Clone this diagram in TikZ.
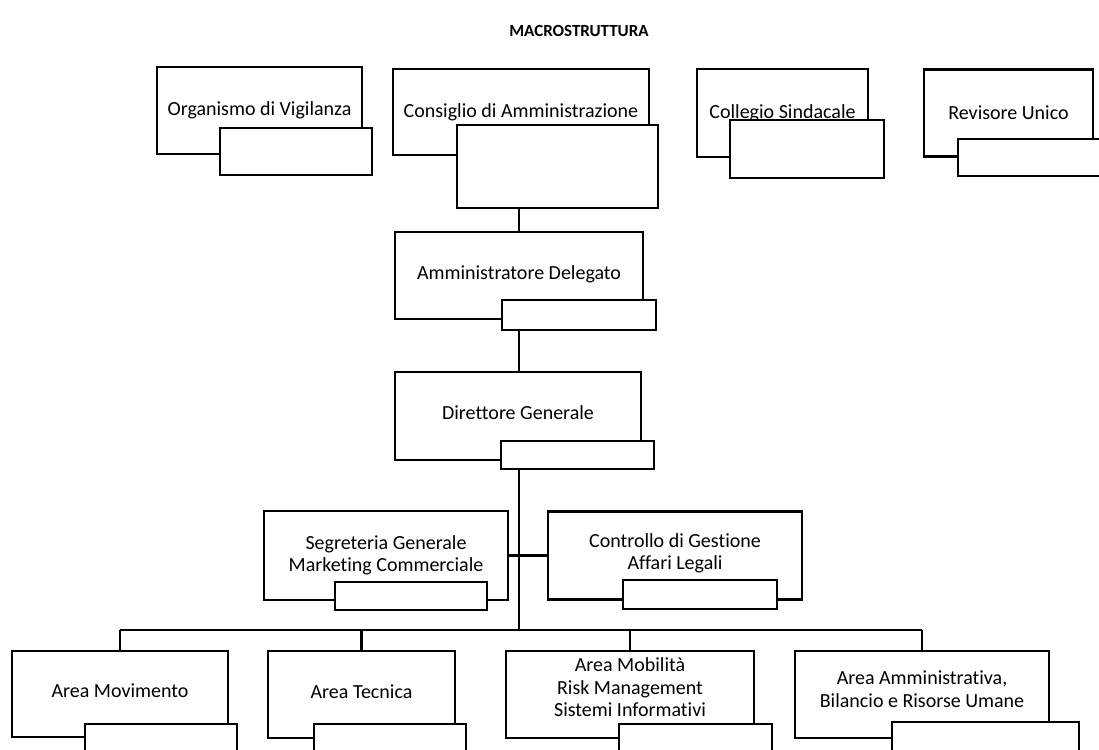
\documentclass[tikz,border=0pt]{standalone}
\usepackage{fontspec}
\setmainfont{Carlito}[Ligatures={NoCommon}]
\newcommand\updepth[1]{\rule[-#1]{0pt}{#1}}
\begin{document}
\begin{tikzpicture}[x=1pt,y=-1pt,
  box/.style={draw=black, line width=2.1pt, fill=white, inner sep=0pt, align=center,
    font=\fontsize{20}{22.5}\selectfont},
  subbox/.style={draw=black, line width=2.1pt, fill=white, inner sep=0pt},
  conn/.style={draw=black, line width=2.1pt},
  ttl/.style={font=\fontsize{17}{20}\selectfont\bfseries}]
\useasboundingbox (0,0) rectangle (1099,749);
\fill[white] (0,0) rectangle (1099,749);

\node[ttl] (title) at (579,31) {MACROSTRUTTURA};

% top row
\node[box, minimum width=205pt, minimum height=87pt] (ov) at (259.5,110.5) {Organismo di Vigilanza};
\node[subbox, minimum width=152pt, minimum height=47pt] (ovs) at (296,151.5) {};
\node[box, minimum width=256pt, minimum height=86pt] (cda) at (521,112) {Consiglio di Amministrazione};
\node[subbox, minimum width=201pt, minimum height=83pt] (cdas) at (557.5,166.5) {};
\node[box, minimum width=171pt, minimum height=88pt] (cs) at (782.5,113) {Collegio Sindacale};
\node[subbox, minimum width=154pt, minimum height=58pt] (css) at (807,149) {};
\node[box, minimum width=169pt, minimum height=87pt] (ru) at (1008.5,113) {Revisore Unico};
\node[subbox, minimum width=148pt, minimum height=37pt] (rus) at (1032,157.5) {};

% chain
\node[box, minimum width=248pt, minimum height=87pt] (ad) at (519,275.5) {Amministratore Delegato\updepth{6pt}};
\node[subbox, minimum width=154pt, minimum height=30pt] (ads) at (579,315) {};
\node[box, minimum width=246pt, minimum height=88pt] (dg) at (518,416) {Direttore Generale\updepth{6pt}};
\node[subbox, minimum width=153pt, minimum height=28pt] (dgs) at (577.5,455) {};

% staff
\node[box, minimum width=244pt, minimum height=89pt] (sg) at (386,555.5) {Segreteria Generale\\Marketing Commerciale};
\node[subbox, minimum width=152pt, minimum height=28pt] (sgs) at (411,596) {};
\node[box, minimum width=254pt, minimum height=88pt] (cg) at (675,555.5) {Controllo di Gestione\\Affari Legali\updepth{8pt}};
\node[subbox, minimum width=154pt, minimum height=29pt] (cgs) at (700,594.5) {};

% bottom row
\node[box, minimum width=216pt, minimum height=86pt] (am) at (120,694) {Area Movimento\updepth{6pt}};
\node[subbox, minimum width=152pt, minimum height=46pt] (ams) at (161,747) {};
\node[box, minimum width=187pt, minimum height=87pt] (at) at (361.5,694.5) {Area Tecnica\updepth{6pt}};
\node[subbox, minimum width=152pt, minimum height=46pt] (ats) at (390,747) {};
\node[box, minimum width=248pt, minimum height=87pt] (amob) at (630,694.5) {Area Mobilità\\Risk Management\\Sistemi Informativi\updepth{14pt}};
\node[subbox, minimum width=153pt, minimum height=46pt] (amobs) at (695.5,747) {};
\node[box, minimum width=254pt, minimum height=87pt] (aa) at (922,694.5) {Area Amministrativa,\\Bilancio e Risorse Umane\updepth{11pt}};
\node[subbox, minimum width=187pt, minimum height=48pt] (aas) at (985.5,746) {};

% connectors
\coordinate (spine) at (519,0);
\coordinate (bus) at (0,630);
\draw[conn] (cdas.south -| spine) -- (ad.north -| spine);
\draw[conn] (ads.south -| spine) -- (dg.north -| spine);
\draw[conn] (dgs.south -| spine) -- (bus -| spine);
\draw[conn] (sg.east) -- (cg.west);
\draw[conn] (am.north |- bus) -- (aa.north |- bus);
\draw[conn] (am.north |- bus) -- (am.north);
\draw[conn] (at.north |- bus) -- (at.north);
\draw[conn] (amob.north |- bus) -- (amob.north);
\draw[conn] (aa.north |- bus) -- (aa.north);
\end{tikzpicture}
\end{document}
